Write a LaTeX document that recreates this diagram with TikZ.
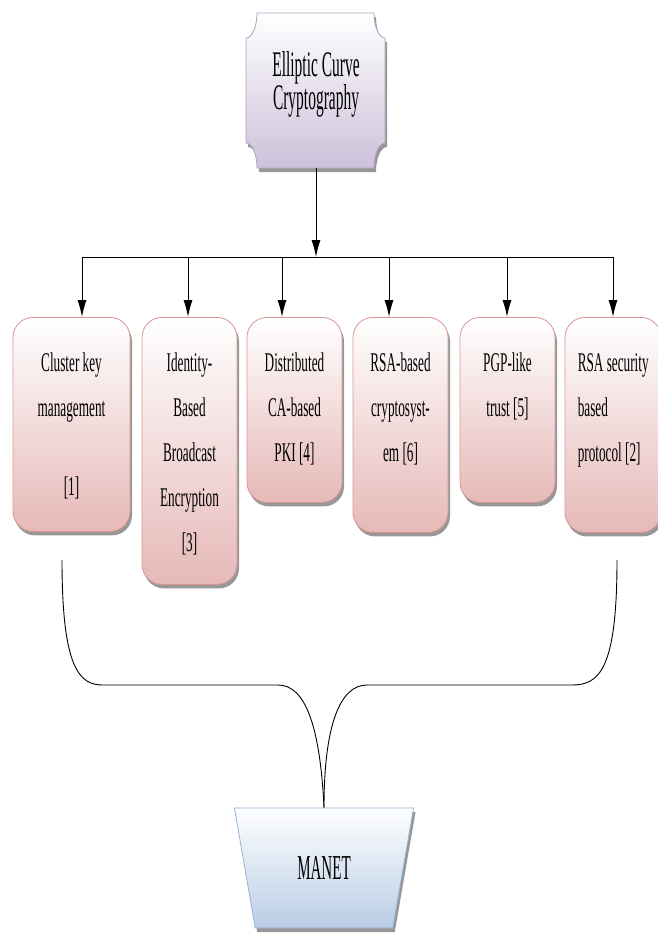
\documentclass[tikz,border=0pt]{standalone}
\usepackage{fontspec}
\setmainfont{Liberation Serif}[FakeStretch=0.43]
\newfontfamily\boxfont{Liberation Serif}[FakeStretch=0.49]
\usepackage{tikz}
\usetikzlibrary{arrows.meta, shadows, shapes.geometric, positioning}

\definecolor{pinkline}{HTML}{D99694}
\definecolor{pinkfill}{HTML}{E6B9B8}
\definecolor{lavline}{HTML}{B3A2C7}
\definecolor{lavfill}{HTML}{CCC1DA}
\definecolor{blueline}{HTML}{95B3D7}
\definecolor{bluefill}{HTML}{B9CDE5}

\tikzset{
    boxshadow/.style={drop shadow={shadow xshift=2pt, shadow yshift=-4pt, fill=black!45, opacity=0.9}},
    refbox/.style={draw=pinkline, line width=0.8pt, rounded corners=20pt, top color=white,
        bottom color=pinkfill, minimum width=95pt, anchor=north, boxshadow},
    reftext/.style={align=center, inner sep=0pt, anchor=north, font=\boxfont\fontsize{27}{45}\selectfont},
    bus/.style={line width=1pt},
}

\begin{document}
\begin{tikzpicture}[x=1pt, y=-1pt, >={Latex[length=17pt, width=9pt]}]
    \useasboundingbox (0,0) rectangle (658,935);
    \clip (0,0) rectangle (658,935);

    % 1. Khối trên: Elliptic Curve Cryptography
    \node[minimum width=138pt, minimum height=155pt] (ecc) at (316,90.5) {};
    \path[draw=lavline, line width=0.8pt, top color=white, bottom color=lavfill, boxshadow]
        (257,13) -- (374,13) .. controls (374,27) and (379,38) .. (385,38)
        -- (385,143) .. controls (379,143) and (374,154) .. (374,168)
        -- (257,168) .. controls (257,154) and (252,143) .. (246,143)
        -- (246,38) .. controls (252,38) and (257,27) .. (257,13) -- cycle;
    \node[anchor=north, align=center, inner sep=0pt, font=\fontsize{36}{33}\selectfont]
        (ecc text) at ([yshift=-38.5pt]ecc.north) {Elliptic Curve\\Cryptography};

    % 2. Các khối giải pháp
    \node[refbox, minimum width=117pt, minimum height=214pt] (c1) at (71.5,317) {};
    \node[refbox, minimum height=267pt] (c2) at (189.5,317) {};
    \node[refbox, minimum height=185pt] (c3) at (294.5,317) {};
    \node[refbox, minimum height=215pt] (c4) at (400.5,317) {};
    \node[refbox, minimum height=185pt] (c5) at (507.5,317) {};
    \node[refbox, minimum width=96pt, minimum height=215pt] (c6) at (613,317) {};

    \node[reftext] (c1 text) at ([yshift=-36pt]c1.north) {Cluster key\\management\\[34pt][1]};
    \node[reftext] (c2 text) at ([yshift=-36pt]c2.north) {Identity-\\Based\\Broadcast\\Encryption\\{[3]}};
    \node[reftext] (c3 text) at ([yshift=-36pt]c3.north) {Distributed\\CA-based\\PKI [4]};
    \node[reftext] (c4 text) at ([yshift=-36pt]c4.north) {RSA-based\\cryptosyst-\\em [6]};
    \node[reftext] (c5 text) at ([yshift=-36pt]c5.north) {PGP-like\\trust [5]};
    \node[reftext, align=left, anchor=north west] (c6 text) at ([xshift=13pt, yshift=-36pt]c6.north west)
        {RSA security\\based\\protocol [2]};

    % 3. Đường phân nhánh và mũi tên
    \coordinate (t1) at (82,257);
    \coordinate (t2) at (188,257);
    \coordinate (t3) at (282,257);
    \coordinate (t4) at (389,257);
    \coordinate (t5) at (507,257);
    \coordinate (t6) at (613,257);
    \draw[bus] (t1) -- (t6);
    \draw[bus, ->] (ecc.south) -- (ecc.south |- t1);
    \foreach \i in {1,...,6}
        \draw[bus, ->] (t\i) -- (t\i |- c\i.north);

    % 4. Khối MANET
    \node[trapezium, trapezium angle=73, trapezium stretches=true, shape border rotate=180,
        minimum width=180pt, minimum height=120pt, draw=blueline, line width=0.8pt,
        top color=white, bottom color=bluefill, boxshadow, font=\fontsize{35}{40}\selectfont]
        (manet) at (324,868) {MANET};

    % 5. Ngoặc nối xuống MANET
    \coordinate (bl) at (62,560);
    \coordinate (br) at (617,560);
    \draw[line width=0.9pt] (bl) .. controls (62,670) and (80,685) .. (103,685) -- (278,685)
        .. controls (305,685) and (320,725) .. (manet.north);
    \draw[line width=0.9pt] (br) .. controls (617,670) and (599,685) .. (572,685) -- (367,685)
        .. controls (340,685) and (324,725) .. (manet.north);
\end{tikzpicture}
\end{document}
